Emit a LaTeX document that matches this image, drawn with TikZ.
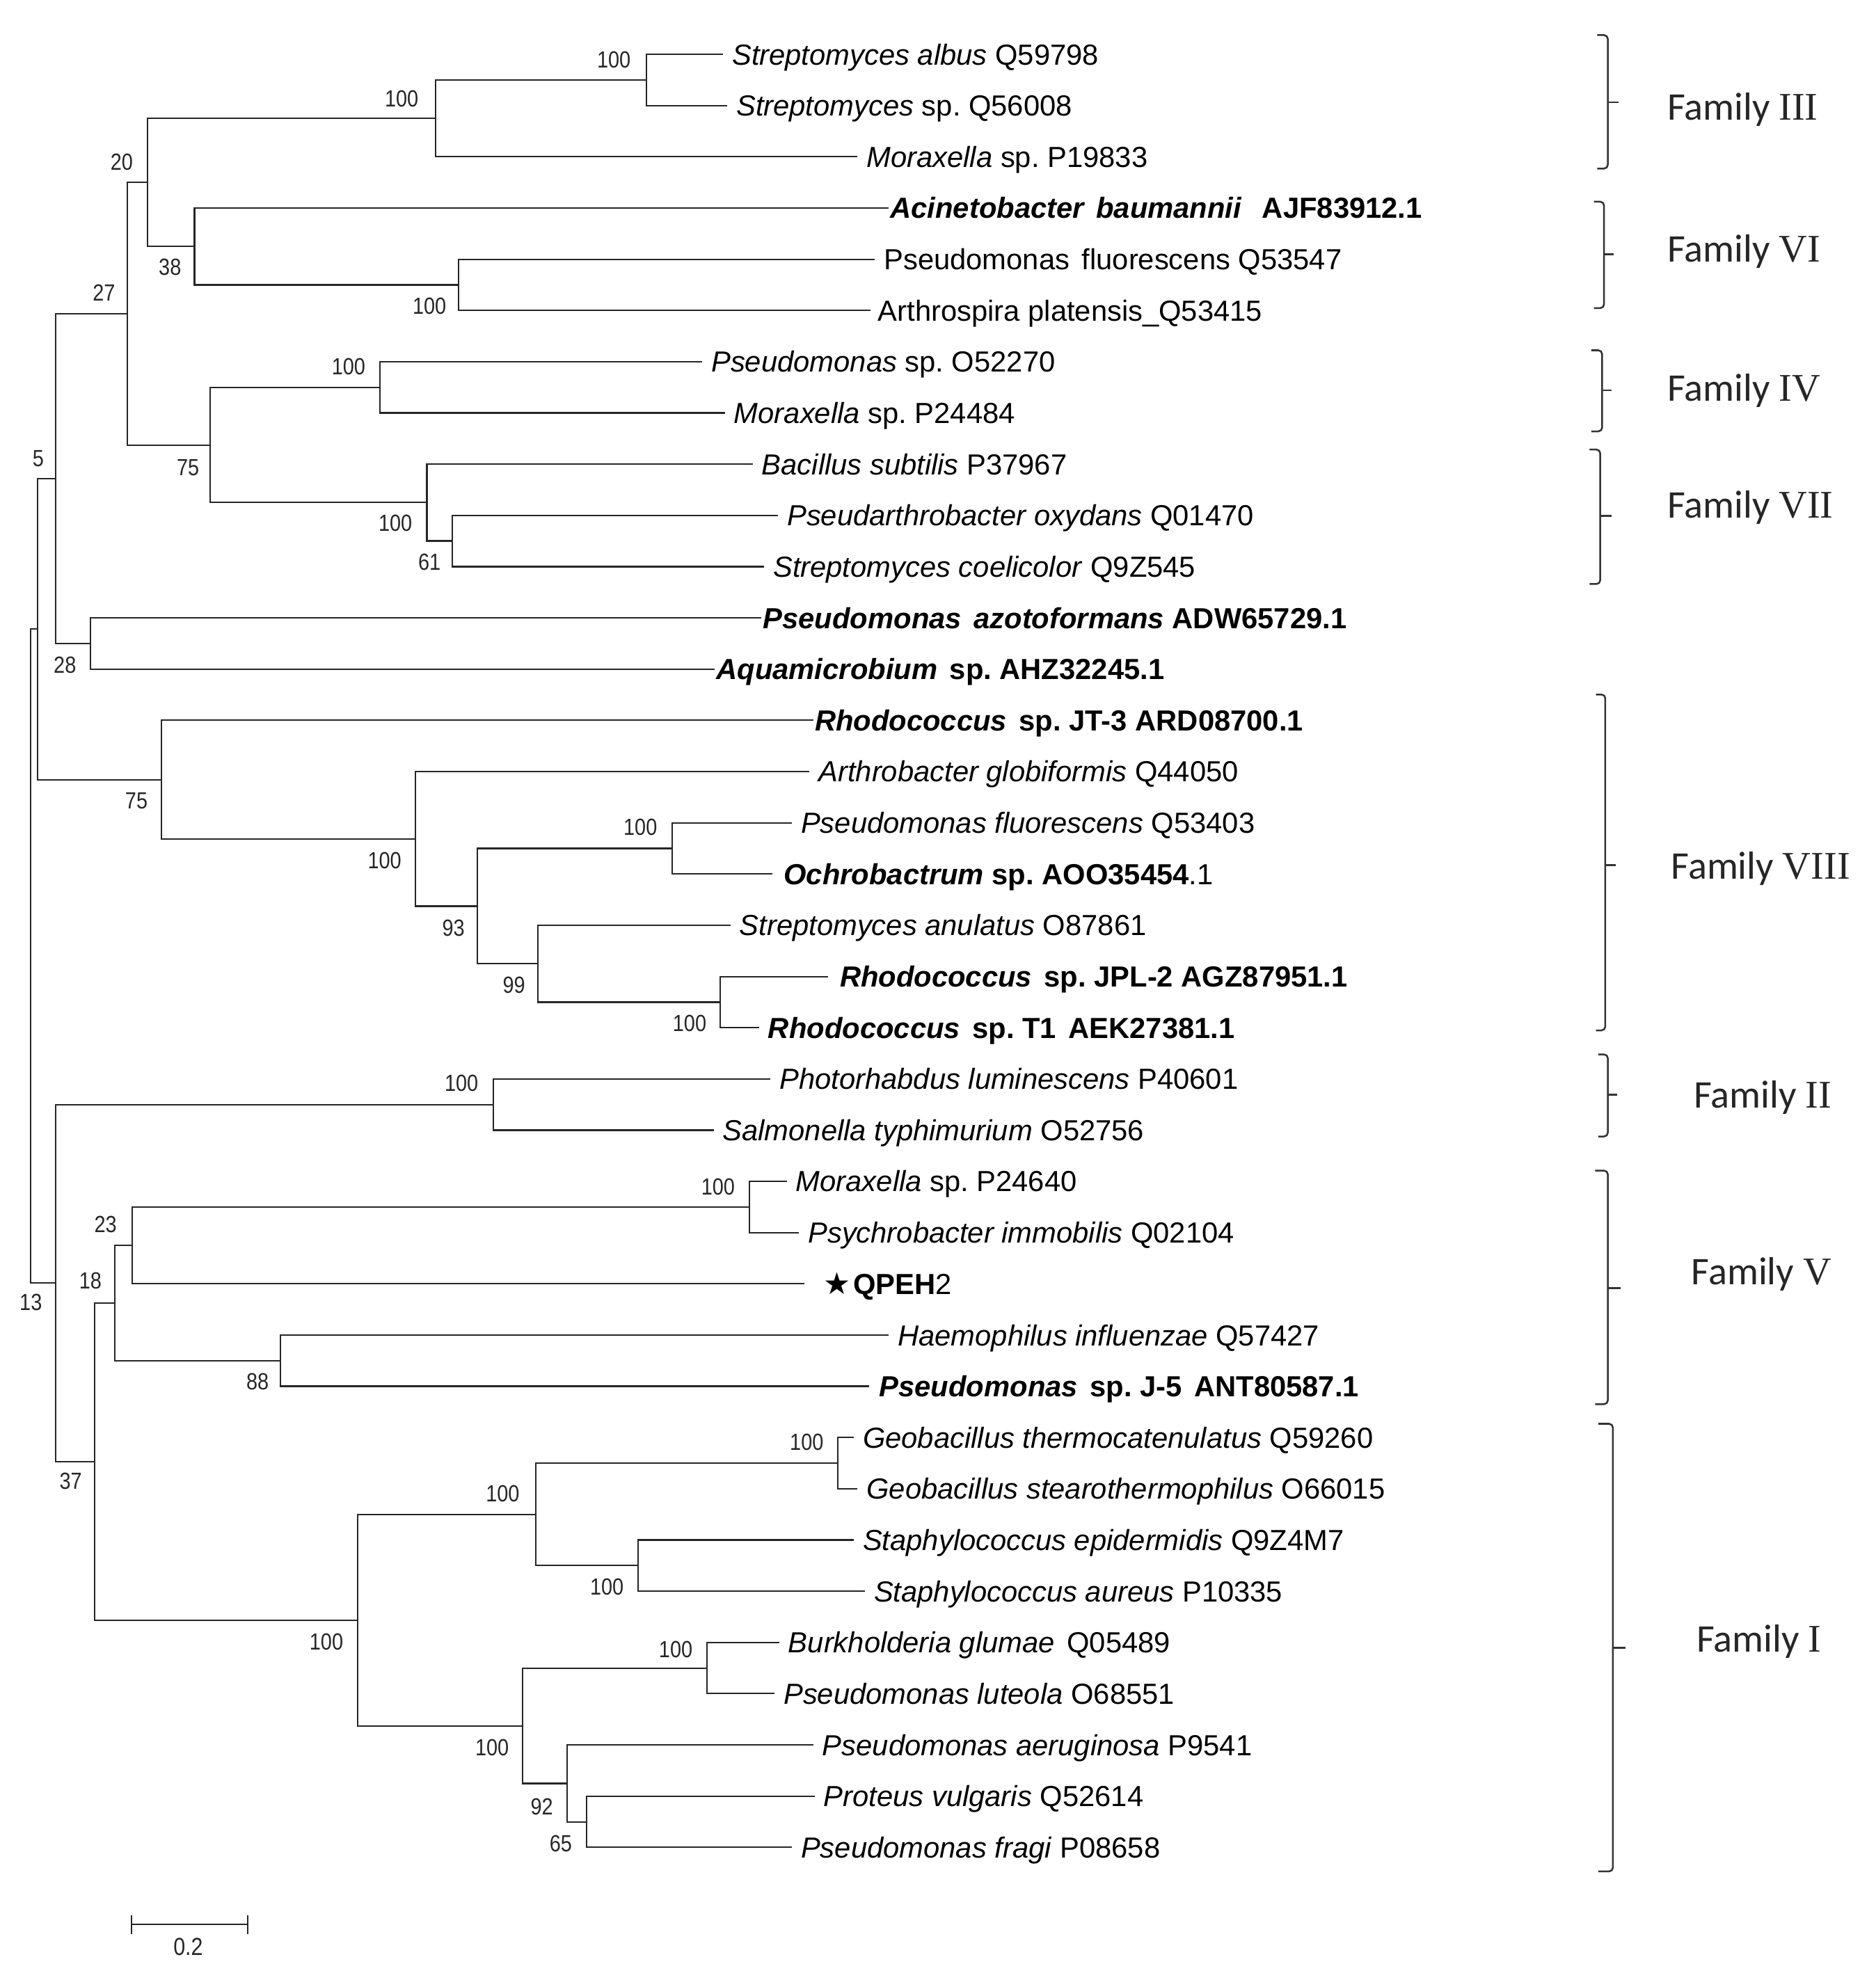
\documentclass[tikz,border=0pt]{standalone}
\usepackage{fontspec}
\setmainfont{Liberation Sans}
\newfontfamily\bootfont[FakeStretch=0.86]{Liberation Sans}
\newfontfamily\famfont{Carlito}
\newfontfamily\romfont{Liberation Serif}
\newfontfamily\starfont{DejaVu Sans}
\usepackage{tikz}
\newcommand{\gapsp}{\hspace{0.42em}}

\begin{document}
\begin{tikzpicture}[x=1pt,y=1pt,yscale=-1,
  branch/.style={line width=1.2pt,color=black!85},
  leaf/.style={anchor=west,inner xsep=7pt,inner ysep=0pt,text height=16.5pt,text depth=0pt,font=\fontsize{23}{27}\selectfont},
  tight/.style={inner xsep=1pt},
  boot/.style={inner sep=0pt,text height=13pt,text depth=0pt,font=\fontsize{18.5}{21}\selectfont\bootfont,text=black!85},
  famlabel/.style={anchor=west,inner sep=0pt,text height=20.5pt,text depth=0pt,font=\fontsize{31}{36}\selectfont\famfont,text=black!85},
  brace/.style={line width=1.4pt,rounded corners=3pt,color=black!80}]
\path[use as bounding box] (0,0) rectangle (1485,1568);

%Inner nodes
\coordinate (nA) at (512,63.3);
\coordinate (nB) at (345,93.7);
\coordinate (nD) at (363,225.6);
\coordinate (nC) at (154,195.2);
\coordinate (n20) at (117,144.4);
\coordinate (nE) at (301,306.7);
\coordinate (nF) at (358,428.4);
\coordinate (nG) at (338,398);
\coordinate (nH) at (166.5,352.4);
\coordinate (n27) at (101,248.4);
\coordinate (nI) at (71.6,509.6);
\coordinate (n5) at (44,379);
\coordinate (nJ) at (532,671.9);
\coordinate (nK) at (570,793.6);
\coordinate (nL) at (426,763.2);
\coordinate (nM) at (378,717.6);
\coordinate (nN) at (329,664.3);
\coordinate (nO) at (127.7,617.4);
\coordinate (nP) at (29.8,498.2);
\coordinate (nQ) at (390.7,874.7);
\coordinate (nR) at (593.5,955.8);
\coordinate (nS) at (104.5,986.3);
\coordinate (nT) at (222,1077.6);
\coordinate (nU) at (91,1032);
\coordinate (nV) at (663.3,1158.7);
\coordinate (nW) at (505,1239.8);
\coordinate (nX) at (424.3,1199.3);
\coordinate (nY) at (559.8,1321);
\coordinate (nZ) at (464.6,1442.7);
\coordinate (nAA) at (449,1412.3);
\coordinate (nAB) at (413.8,1366.7);
\coordinate (nAC) at (283,1283);
\coordinate (nAD) at (75,1157.5);
\coordinate (nAE) at (44,1016.1);
\coordinate (root) at (24.4,757.2);

% Leaf Nodes
\node[leaf] (l1) at (572.5,43) {\textit{Streptomyces albus} Q59798};
\node[leaf] (l2) at (575.8,83.6) {\textit{Streptomyces} sp.\ Q56008};
\node[leaf] (l3) at (679,124.1) {\textit{Moraxella} sp.\ P19833};
\node[leaf,tight] (l4) at (703.7,164.7) {\textbf{\textit{Acinetobacter\gapsp baumannii}\gapsp\ AJF83912.1}};
\node[leaf] (l5) at (692.7,205.3) {Pseudomonas\gapsp fluorescens Q53547};
\node[leaf,inner xsep=6pt] (l6) at (689,245.9) {Arthrospira platensis\_Q53415};
\node[leaf] (l7) at (556,286.4) {\textit{Pseudomonas} sp.\ O52270};
\node[leaf] (l8) at (574,327) {\textit{Moraxella} sp.\ P24484};
\node[leaf] (l9) at (596,367.6) {\textit{Bacillus subtilis} P37967};
\node[leaf] (l10) at (616,408.1) {\textit{Pseudarthrobacter oxydans} Q01470};
\node[leaf] (l11) at (605,448.7) {\textit{Streptomyces coelicolor} Q9Z545};
\node[leaf,tight] (l12) at (603,489.3) {\textbf{\textit{Pseudomonas\gapsp azotoformans} ADW65729.1}};
\node[leaf,tight] (l13) at (566,529.8) {\textbf{\textit{Aquamicrobium}\gapsp sp.\ AHZ32245.1}};
\node[leaf,tight] (l14) at (644,570.4) {\textbf{\textit{Rhodococcus}\gapsp sp.\ JT-3 ARD08700.1}};
\node[leaf] (l15) at (641,611) {\textit{Arthrobacter globiformis} Q44050};
\node[leaf] (l16) at (627,651.6) {\textit{Pseudomonas fluorescens} Q53403};
\node[leaf,inner xsep=9pt] (l17) at (611.4,692.1) {\textbf{\textit{Ochrobactrum} sp.\ AOO35454}.1};
\node[leaf] (l18) at (578.3,732.7) {\textit{Streptomyces anulatus} O87861};
\node[leaf,inner xsep=9pt] (l19) at (655.8,773.3) {\textbf{\textit{Rhodococcus}\gapsp sp.\ JPL-2 AGZ87951.1}};
\node[leaf] (l20) at (601,813.8) {\textbf{\textit{Rhodococcus}\gapsp sp.\ T1\gapsp AEK27381.1}};
\node[leaf] (l21) at (610,854.4) {\textit{Photorhabdus luminescens} P40601};
\node[leaf] (l22) at (565,895) {\textit{Salmonella typhimurium} O52756};
\node[leaf] (l23) at (623,935.5) {\textit{Moraxella} sp.\ P24640};
\node[leaf] (l24) at (632.6,976.1) {\textit{Psychrobacter immobilis} Q02104};
\node[leaf,inner xsep=15pt] (l25) at (637,1016.7) {{\starfont\fontsize{24}{27}\selectfont ★}\kern2pt\textbf{QPEH}2};
\node[leaf] (l26) at (703.7,1057.3) {\textit{Haemophilus influenzae} Q57427};
\node[leaf,inner xsep=8pt] (l27) at (688,1097.8) {\textbf{\textit{Pseudomonas}\gapsp sp.\ J-5\gapsp ANT80587.1}};
\node[leaf] (l28) at (676,1138.4) {\textit{Geobacillus thermocatenulatus} Q59260};
\node[leaf] (l29) at (679,1179) {\textit{Geobacillus stearothermophilus} O66015};
\node[leaf] (l30) at (676,1219.5) {\textit{Staphylococcus epidermidis} Q9Z4M7};
\node[leaf] (l31) at (684.8,1260.1) {\textit{Staphylococcus aureus} P10335};
\node[leaf] (l32) at (617,1300.7) {\textit{Burkholderia glumae}\gapsp Q05489};
\node[leaf] (l33) at (613.3,1341.2) {\textit{Pseudomonas luteola} O68551};
\node[leaf] (l34) at (644,1381.8) {\textit{Pseudomonas aeruginosa} P9541};
\node[leaf] (l35) at (645,1422.4) {\textit{Proteus vulgaris} Q52614};
\node[leaf] (l36) at (627,1462.9) {\textit{Pseudomonas fragi} P08658};

%Branches
\draw[branch] (nA) |- (l1.west);
\draw[branch] (nA) |- (l2.west);
\draw[branch] (nB) |- (nA);
\draw[branch] (nB) |- (l3.west);
\draw[branch] (nD) |- (l5.west);
\draw[branch] (nD) |- (l6.west);
\draw[branch] (nC) |- (l4.west);
\draw[branch] (nC) |- (nD);
\draw[branch] (n20) |- (nB);
\draw[branch] (n20) |- (nC);
\draw[branch] (nE) |- (l7.west);
\draw[branch] (nE) |- (l8.west);
\draw[branch] (nF) |- (l10.west);
\draw[branch] (nF) |- (l11.west);
\draw[branch] (nG) |- (l9.west);
\draw[branch] (nG) |- (nF);
\draw[branch] (nH) |- (nE);
\draw[branch] (nH) |- (nG);
\draw[branch] (n27) |- (n20);
\draw[branch] (n27) |- (nH);
\draw[branch] (nI) |- (l12.west);
\draw[branch] (nI) |- (l13.west);
\draw[branch] (n5) |- (n27);
\draw[branch] (n5) |- (nI);
\draw[branch] (nJ) |- (l16.west);
\draw[branch] (nJ) |- (l17.west);
\draw[branch] (nK) |- (l19.west);
\draw[branch] (nK) |- (l20.west);
\draw[branch] (nL) |- (l18.west);
\draw[branch] (nL) |- (nK);
\draw[branch] (nM) |- (nJ);
\draw[branch] (nM) |- (nL);
\draw[branch] (nN) |- (l15.west);
\draw[branch] (nN) |- (nM);
\draw[branch] (nO) |- (l14.west);
\draw[branch] (nO) |- (nN);
\draw[branch] (nP) |- (n5);
\draw[branch] (nP) |- (nO);
\draw[branch] (nQ) |- (l21.west);
\draw[branch] (nQ) |- (l22.west);
\draw[branch] (nR) |- (l23.west);
\draw[branch] (nR) |- (l24.west);
\draw[branch] (nS) |- (nR);
\draw[branch] (nS) |- (l25.west);
\draw[branch] (nT) |- (l26.west);
\draw[branch] (nT) |- (l27.west);
\draw[branch] (nU) |- (nS);
\draw[branch] (nU) |- (nT);
\draw[branch] (nV) |- (l28.west);
\draw[branch] (nV) |- (l29.west);
\draw[branch] (nW) |- (l30.west);
\draw[branch] (nW) |- (l31.west);
\draw[branch] (nX) |- (nV);
\draw[branch] (nX) |- (nW);
\draw[branch] (nY) |- (l32.west);
\draw[branch] (nY) |- (l33.west);
\draw[branch] (nZ) |- (l35.west);
\draw[branch] (nZ) |- (l36.west);
\draw[branch] (nAA) |- (l34.west);
\draw[branch] (nAA) |- (nZ);
\draw[branch] (nAB) |- (nY);
\draw[branch] (nAB) |- (nAA);
\draw[branch] (nAC) |- (nX);
\draw[branch] (nAC) |- (nAB);
\draw[branch] (nAD) |- (nU);
\draw[branch] (nAD) |- (nAC);
\draw[branch] (nAE) |- (nQ);
\draw[branch] (nAE) |- (nAD);
\draw[branch] (root) |- (nP);
\draw[branch] (root) |- (nAE);

% Bootstrap values
\node[boot] (bA) at (486,47) {100};
\node[boot] (bB) at (318,78) {100};
\node[boot] (b20) at (96.4,128.4) {20};
\node[boot] (bC) at (134.6,211.6) {38};
\node[boot] (b27) at (82.3,231.8) {27};
\node[boot] (bD) at (340,242) {100};
\node[boot] (bE) at (276,290) {100};
\node[boot] (b5) at (30.3,363) {5};
\node[boot] (bH) at (148.8,370) {75};
\node[boot] (bG) at (313,414) {100};
\node[boot] (bF) at (340,445) {61};
\node[boot] (bI) at (51.4,526.8) {28};
\node[boot] (bO) at (108,633.7) {75};
\node[boot] (bJ) at (507,655) {100};
\node[boot] (bN) at (304.5,681.4) {100};
\node[boot] (bM) at (359,734.6) {93};
\node[boot] (bL) at (407,779.7) {99};
\node[boot] (bK) at (546,810) {100};
\node[boot] (bQ) at (365.4,857.8) {100};
\node[boot] (bR) at (568.5,939.5) {100};
\node[boot] (bS) at (83.6,969.5) {23};
\node[boot] (bU) at (71.6,1014) {18};
\node[boot] (bAE) at (24.4,1031.4) {13};
\node[boot] (bT) at (203.9,1093.8) {88};
\node[boot] (bV) at (638.7,1141.8) {100};
\node[boot] (bAD) at (56,1173) {37};
\node[boot] (bX) at (398,1182.6) {100};
\node[boot] (bW) at (480.5,1256.4) {100};
\node[boot] (bAC) at (258.4,1300) {100};
\node[boot] (bY) at (535,1306) {100};
\node[boot] (bAB) at (389.6,1383.6) {100};
\node[boot] (bAA) at (429,1430.5) {92};
\node[boot] (bZ) at (444,1460) {65};

%Family braces
\draw[brace] (1264.6,27.8) -- (1273,27.8) -- (1273,133.5) -- (1264.6,133.5);
\draw[brace] (1273,81) -- (1281.7,81);
\draw[brace] (1262,159.7) -- (1270,159.7) -- (1270,244) -- (1262,244);
\draw[brace] (1270,201.5) -- (1277.5,201.5);
\draw[brace] (1260,277.4) -- (1268.5,277.4) -- (1268.5,341.6) -- (1260,341.6);
\draw[brace] (1268.5,309) -- (1276,309);
\draw[brace] (1258.5,356) -- (1267,356) -- (1267,462.5) -- (1258.5,462.5);
\draw[brace] (1267,408.6) -- (1276,408.6);
\draw[brace] (1263.6,550) -- (1271,550) -- (1271,816) -- (1263.6,816);
\draw[brace] (1271,685) -- (1279.5,685);
\draw[brace] (1265.5,835) -- (1273,835) -- (1273,900) -- (1265.5,900);
\draw[brace] (1273,867) -- (1280.6,867);
\draw[brace] (1263,927) -- (1273,927) -- (1273,1112) -- (1263,1112);
\draw[brace] (1273,1020) -- (1283,1020);
\draw[brace] (1265.5,1127.5) -- (1277,1127.5) -- (1277,1482) -- (1265.5,1482);
\draw[brace] (1277,1305) -- (1287,1305);

% Family labels
\node[famlabel] (f3) at (1320,85) {Family {\romfont III}};
\node[famlabel] (f6) at (1320,197) {Family {\romfont VI}};
\node[famlabel] (f4) at (1320,307.5) {Family {\romfont IV}};
\node[famlabel] (f7) at (1320,400) {Family {\romfont VII}};
\node[famlabel] (f8) at (1323,686) {Family {\romfont VIII}};
\node[famlabel] (f2) at (1341,867) {Family {\romfont II}};
\node[famlabel] (f5) at (1339,1007) {Family {\romfont V}};
\node[famlabel] (f1) at (1343,1298) {Family {\romfont I}};

%Scale bar
\coordinate (s0) at (104,1524);
\coordinate (s1) at (196,1524);
\draw[branch] (s0) -- (s1);
\draw[branch] (s0) ++(0,-7.5) -- ++(0,15);
\draw[branch] (s1) ++(0,-7.5) -- ++(0,15);
\node[boot,font=\fontsize{19.5}{22}\selectfont\bootfont] (sl) at (149,1542) {0.2};
\end{tikzpicture}
\end{document}
